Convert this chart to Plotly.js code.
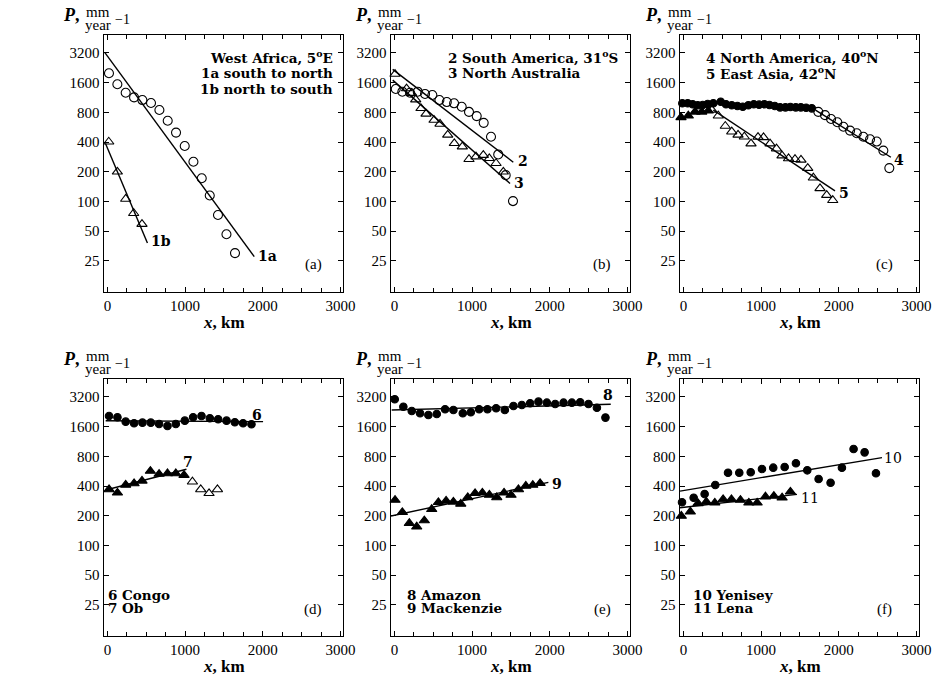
<!DOCTYPE html>
<html>
<head>
<meta charset="utf-8">
<script src="https://cdn.plot.ly/plotly-3.0.1.min.js"></script>
<style>html,body{margin:0;padding:0;background:#fff;}#chart{width:939px;height:686px;}</style>
</head>
<body>
<div id="chart"></div>
<script>
// ---------- data (x in km, P in mm/year) ----------
// (a) West Africa
const waSNx = [20,128,235,343,450,561,669,776,883,995,1107,1214,1317,1423,1532,1642];
const waSNy = [1993,1543,1266,1135,1067,997,845,659,499,365,253,172,115,73,46.6,30];
const waSNfitX = [-35,1890];
const waSNfitY = [3250,27.6];
const waNSx = [17,128,235,338,445];
const waNSy = [403,200,106,76,59];
const waNSfitX = [-26,515];
const waNSfitY = [389,38];
// (b) South America, North Australia
const saX = [17,102,201,300,394,488,579,674,768,866,960,1059,1149,1243,1336,1432,1526];
const saY = [1381,1297,1267,1297,1230,1200,1067,1018,989,912,809,734,627,453,300,185,101];
const saFitX = [-22,1530];
const saFitY = [2185,250];
const naX = [8,156,220,274,342,407,510,587,686,771,874,960,1050,1144,1221,1308,1402];
const naY = [1958,1395,1253,1078,880,773,669,611,473,389,360,268,285,295,274,244,200];
const naFitX = [-22,1488];
const naFitY = [1700,152];
// (c) North America, East Asia
const namFilledX = [-14,55,119,184,248,312,385,480,548,622,695,764,836,906,974,1042,1107,1176,1244,1313,1377,1446,1511,1579,1652];
const namFilledY = [989,989,966,944,951,973,989,1027,966,944,928,913,944,966,958,966,951,928,900,900,906,900,900,891,879];
const namOpenX = [1736,1822,1900,1981,2059,2145,2231,2316,2402,2488,2573,2650];
const namOpenY = [810,750,686,636,573,523,492,453,428,405,328,218];
const namFitX = [1700,2670];
const namFitY = [845,281];
const eaFilledX = [-31,63,149,236,320];
const eaFilledY = [713,740,810,810,830];
const eaOpenX = [368,449,539,622,703,784,870,960,1031,1115,1198,1269,1353,1436,1513,1600,1672,1758,1844,1922];
const eaOpenY = [845,740,582,510,473,453,386,450,447,386,343,292,273,268,264,218,174,136,116,103];
const eaFitX = [385,1951];
const eaFitY = [845,128];
// (d) Congo, Ob
const congoX = [21,129,235,343,451,558,665,773,880,996,1103,1211,1318,1425,1533,1640,1746,1854];
const congoY = [2057,1996,1800,1733,1758,1758,1705,1627,1705,1842,1996,2057,1948,1902,1842,1774,1733,1693];
const congoFitX = [-22,2003];
const congoFitY = [1838,1800];
const obFilledX = [21,129,235,343,445,553,665,773,880,986];
const obFilledY = [370,342,411,425,452,568,530,537,537,516];
const obOpenX = [1094,1201,1308,1416];
const obOpenY = [443,370,338,370];
const obFitX = [-22,1017];
const obFitY = [365,592];
// (e) Amazon, Mackenzie
const amazonX = [4,115,223,330,437,545,652,759,880,983,1090,1197,1309,1421,1532,1640,1747,1854,1962,2069,2177,2284,2391,2498,2606,2716];
const amazonY = [3033,2552,2311,2189,2105,2154,2402,2363,2189,2240,2402,2402,2459,2363,2594,2655,2763,2870,2803,2719,2803,2803,2829,2719,2493,1978];
const amazonFitX = [-35,2784];
const amazonFitY = [2363,2700];
const mackX = [8,102,192,287,385,480,566,665,759,854,944,1038,1132,1222,1317,1411,1501,1596,1691,1781,1875];
const mackY = [289,217,168,155,179,233,274,283,277,264,307,338,342,325,307,342,325,370,401,410,427];
const mackFitX = [-44,1981];
const mackFitY = [199,436];
// (f) Yenisey, Lena
const yenX = [-18,132,273,410,574,719,866,1011,1156,1303,1448,1594,1740,1894,2040,2190,2332,2478];
const yenY = [274,305,332,410,547,547,553,597,615,625,681,578,472,433,615,951,879,539];
const yenFitX = [-44,2556];
const yenFitY = [356,778];
const lenaX = [-27,89,188,295,404,511,618,734,842,949,1056,1164,1270,1377];
const lenaY = [199,220,267,277,271,293,293,289,271,271,312,317,305,350];
const lenaFitX = [-44,1462];
const lenaFitY = [241,330];

// axis ticks
const xTicks = [0,1000,2000,3000];
const xTickText = ['0','1000','2000','3000'];
const yTicks = [25,50,100,200,400,800,1600,3200];
const yTickText = ['25','50','100','200','400','800','1600','3200'];

// ---------- drawing ----------
const W = 939, H = 686;
const FONT = 'Liberation Serif, Times New Roman, serif';
const BFONT = 'DejaVu Serif, Liberation Serif, serif';
const ax = n => (n === 1 ? '' : String(n));
const traces = [];
function pts(n, x, y, symbol, size) {
  traces.push({type:'scatter', mode:'markers', x:x, y:y, xaxis:'x'+ax(n), yaxis:'y'+ax(n),
    cliponaxis:false,
    marker:{symbol:symbol, size:size||8, color:'#000', line:{color:'#000', width:1.1}}, hoverinfo:'skip'});
}
function fit(n, x, y) {
  traces.push({type:'scatter', mode:'lines', x:x, y:y, xaxis:'x'+ax(n), yaxis:'y'+ax(n),
    line:{color:'#000', width:1.4}, hoverinfo:'skip'});
}
// (a)
fit(1, waSNfitX, waSNfitY); pts(1, waSNx, waSNy, 'circle-open', 9);
fit(1, waNSfitX, waNSfitY); pts(1, waNSx, waNSy, 'triangle-up-open', 9);
// (b)
fit(2, saFitX, saFitY); pts(2, saX, saY, 'circle-open', 9);
fit(2, naFitX, naFitY); pts(2, naX, naY, 'triangle-up-open', 9);
// (c)
fit(3, namFitX, namFitY); pts(3, namFilledX, namFilledY, 'circle', 7.5); pts(3, namOpenX, namOpenY, 'circle-open', 9);
fit(3, eaFitX, eaFitY); pts(3, eaFilledX, eaFilledY, 'triangle-up', 9); pts(3, eaOpenX, eaOpenY, 'triangle-up-open', 9);
// (d)
fit(4, congoFitX, congoFitY); pts(4, congoX, congoY, 'circle', 7.5);
fit(4, obFitX, obFitY); pts(4, obFilledX, obFilledY, 'triangle-up', 9); pts(4, obOpenX, obOpenY, 'triangle-up-open', 9);
// (e)
fit(5, amazonFitX, amazonFitY); pts(5, amazonX, amazonY, 'circle', 7.5);
fit(5, mackFitX, mackFitY); pts(5, mackX, mackY, 'triangle-up', 9);
// (f)
fit(6, yenFitX, yenFitY); pts(6, yenX, yenY, 'circle', 7.5);
fit(6, lenaFitX, lenaFitY); pts(6, lenaX, lenaY, 'triangle-up', 9);

const colDom = [[104/W, 343/W], [391/W, 630/W], [680/W, 919/W]];
const rowDom = [[1-292/H, 1-35/H], [1-636/H, 1-379/H]];
const layout = {width:W, height:H, margin:{l:0,r:0,t:0,b:0}, showlegend:false,
  paper_bgcolor:'#fff', plot_bgcolor:'#fff', font:{family:FONT, size:14, color:'#000'}, annotations:[]};
for (let i = 1; i <= 6; i++) {
  const c = (i-1) % 3, r = Math.floor((i-1)/3);
  layout['xaxis'+ax(i)] = {domain:colDom[c], anchor:'y'+ax(i), range:[-44,3032],
    tickmode:'array', tickvals:xTicks, ticktext:xTickText, ticks:'inside', ticklen:5, tickwidth:1, tickcolor:'#000',
    showline:true, linecolor:'#000', linewidth:1.4, mirror:'ticks', showgrid:false, zeroline:false,
    tickfont:{family:FONT, size:15, color:'#000'},
    minor:{tickmode:'linear', tick0:0, dtick:250, ticks:'inside', ticklen:4, tickwidth:1, tickcolor:'#000', showgrid:false}};
  layout['yaxis'+ax(i)] = {domain:rowDom[r], anchor:'x'+ax(i), type:'log', range:[Math.log10(12.1), Math.log10(4870)],
    tickmode:'array', tickvals:yTicks, ticktext:yTickText, ticks:'inside', ticklen:5, tickwidth:1, tickcolor:'#000',
    showline:true, linecolor:'#000', linewidth:1.4, mirror:'ticks', showgrid:false, zeroline:false,
    tickfont:{family:FONT, size:15, color:'#000'}};
}
function note(text, x, y, opts) {
  layout.annotations.push(Object.assign({text:text, xref:'paper', yref:'paper', x:x/W, y:1-y/H,
    xanchor:'left', yanchor:'middle', showarrow:false, borderpad:0, font:{family:FONT, size:15, color:'#000'}}, opts||{}));
}
const colOff = [0, 292, 582];
const rowOff = [0, 344];
const xTitleCx = [224, 511, 800];
const letters = ['(a)','(b)','(c)','(d)','(e)','(f)'];
const letterX = [313, 602, 884];
for (let i = 0; i < 6; i++) {
  const c = i % 3, r = Math.floor(i/3);
  const dx = colOff[c], dy = rowOff[r];
  note('<b><i>P</i>,</b>', 62+dx, 15+dy, {font:{family:FONT, size:18, color:'#000'}});
  note('mm', 98+dx, 12+dy, {xanchor:'center', font:{family:FONT, size:15, color:'#000'}});
  note('year', 98+dx, 25+dy, {xanchor:'center', font:{family:FONT, size:15, color:'#000'}});
  note('−1', 114+dx, 19+dy, {font:{family:FONT, size:14, color:'#000'}});
  note('<b><i>x</i>, km</b>', xTitleCx[c], 322+dy, {xanchor:'center', font:{family:FONT, size:17, color:'#000'}});
  note(letters[i], letterX[c], 265+dy, {xanchor:'center', font:{family:FONT, size:15, color:'#000'}});
}
const B = {family:BFONT, size:13.5, color:'#000'};
const BL = {family:BFONT, size:14, color:'#000'};
// legends
note('<b>West Africa, 5<sup>o</sup>E</b>', 334, 57, {xanchor:'right', font:B});
note('<b>1a south to north</b>', 334, 73, {xanchor:'right', font:B});
note('<b>1b north to south</b>', 334, 89, {xanchor:'right', font:B});
note('<b>2 South America, 31<sup>o</sup>S</b>', 447, 57, {font:B});
note('<b>3 North Australia</b>', 447, 73, {font:B});
note('<b>4 North America, 40<sup>o</sup>N</b>', 705, 57, {font:B});
note('<b>5 East Asia, 42<sup>o</sup>N</b>', 705, 73, {font:B});
note('<b>6 Congo</b>', 107, 595, {font:B});
note('<b>7 Ob</b>', 107, 608, {font:B});
note('<b>8 Amazon</b>', 406, 595, {font:B});
note('<b>9 Mackenzie</b>', 406, 608, {font:B});
note('<b>10 Yenisey</b>', 692, 595, {font:B});
note('<b>11 Lena</b>', 692, 608, {font:B});
// curve labels
note('<b>1a</b>', 257, 256, {font:BL});
note('<b>1b</b>', 150, 241, {font:BL});
note('<b>2</b>', 517, 161, {font:BL});
note('<b>3</b>', 513, 183, {font:BL});
note('<b>4</b>', 893, 160, {font:BL});
note('<b>5</b>', 838, 193, {font:BL});
note('<b>6</b>', 251, 415, {font:BL});
note('<b>7</b>', 182, 462, {font:BL});
note('<b>8</b>', 602, 395, {font:BL});
note('<b>9</b>', 551, 484, {font:BL});
note('10', 883, 458, {font:{family:BFONT, size:14, color:'#000'}});
note('11', 800, 498, {font:{family:BFONT, size:14, color:'#000'}});

Plotly.newPlot('chart', traces, layout, {staticPlot:true, displayModeBar:false});
</script>
</body>
</html>
